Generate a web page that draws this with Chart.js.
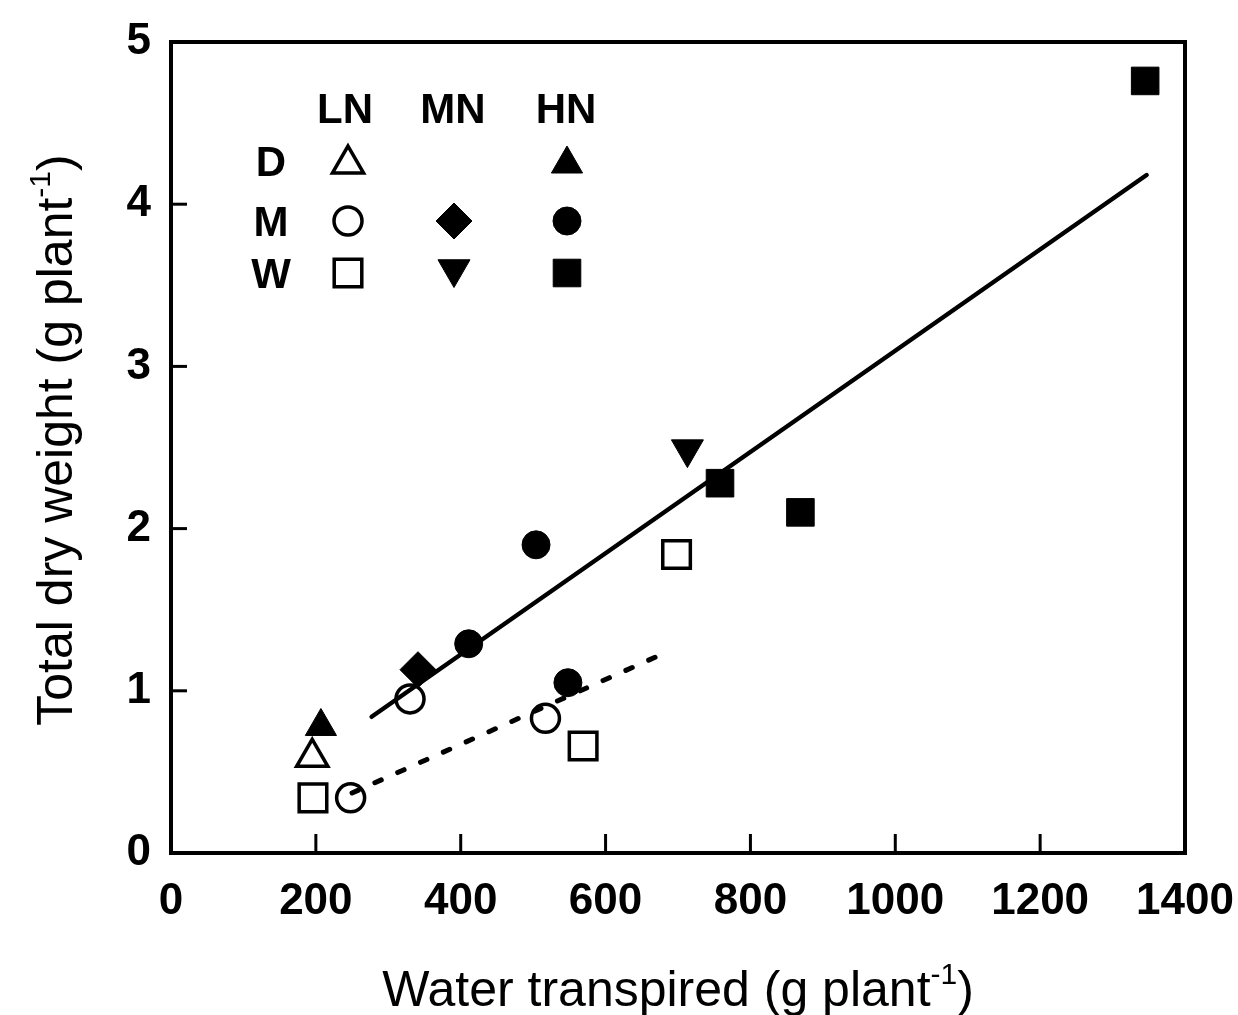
<!DOCTYPE html>
<html><head><meta charset="utf-8">
<script src="https://cdn.jsdelivr.net/npm/chart.js@4.4.0/dist/chart.umd.min.js"></script>
<style>html,body{margin:0;padding:0;background:#fff;}canvas{display:block;}</style>
</head><body>
<canvas id="c" width="1238" height="1015"></canvas>
<script>
// ---- data ----
const xTickValues = [0, 200, 400, 600, 800, 1000, 1200, 1400];
const yTickValues = [0, 1, 2, 3, 4, 5];
const dLN = [{x:195, y:0.59}];
const dHN = [{x:207, y:0.78}];
const mLN = [{x:248, y:0.34}, {x:330, y:0.95}, {x:517, y:0.83}];
const mMN = [{x:341, y:1.13}];
const mHN = [{x:411, y:1.29}, {x:504, y:1.90}, {x:548, y:1.05}];
const wLN = [{x:196, y:0.34}, {x:569, y:0.66}, {x:698, y:1.84}];
const wMN = [{x:713, y:2.49}];
const wHN = [{x:758, y:2.28}, {x:869, y:2.10}, {x:1345, y:4.76}];
const fitAll = [{x:277, y:0.84}, {x:1347, y:4.18}];
const fitLow = [{x:250, y:0.37}, {x:675, y:1.22}];
const legendCols = ['LN', 'MN', 'HN'];
const legendRows = ['D', 'M', 'W'];
const xTitle = 'Water transpired (g plant';
const yTitle = 'Total dry weight (g plant';
const titleSup = '-1';

// ---- styles ----
const FONT = '"Liberation Sans", Arial, Helvetica, sans-serif';
const INK = '#000';
const OPEN = 'rgba(0,0,0,0)';
const styles = {
  triUp:   {pointStyle:'triangle', radius:18, rotation:0},
  triDown: {pointStyle:'triangle', radius:18.5, rotation:180},
  circ:    {pointStyle:'circle', radius:14, rotation:0},
  sq:      {pointStyle:'rect', radius:19.5, rotation:0},
  dia:     {pointStyle:'rectRot', radius:18, rotation:0}
};
function ds(label, data, st, filled) {
  return {
    label, data, showLine:false,
    pointStyle: st.pointStyle, pointRadius: st.radius, pointRotation: st.rotation,
    pointHoverRadius: st.radius,
    pointBackgroundColor: filled ? INK : OPEN,
    pointBorderColor: INK,
    pointBorderWidth: filled ? 1 : 3.5
  };
}
const datasets = [
  ds('D LN', dLN, styles.triUp, false),
  ds('D HN', dHN, styles.triUp, true),
  ds('M LN', mLN, styles.circ, false),
  ds('M MN', mMN, styles.dia, true),
  ds('M HN', mHN, styles.circ, true),
  ds('W LN', wLN, styles.sq, false),
  ds('W MN', wMN, styles.triDown, true),
  ds('W HN', wHN, styles.sq, true),
  {label:'fit', data:fitAll, showLine:true, pointRadius:0, borderColor:INK, borderWidth:4.5, borderCapStyle:'round', fill:false},
  {label:'fit low', data:fitLow, showLine:true, pointRadius:0, borderColor:INK, borderWidth:5, borderDash:[7,18], borderCapStyle:'round', fill:false}
];

// ---- frame, inward ticks, titles, inset legend ----
const framePlugin = {
  id:'frame',
  afterDraw(chart) {
    const {ctx, chartArea:ca, scales:{x, y}} = chart;
    ctx.save();
    ctx.strokeStyle = INK;
    ctx.lineWidth = 4;
    ctx.strokeRect(ca.left, ca.top, ca.right - ca.left, ca.bottom - ca.top);
    ctx.lineWidth = 3;
    xTickValues.forEach(v => {
      if (v === x.min || v === x.max) return;
      const px = x.getPixelForValue(v);
      ctx.beginPath(); ctx.moveTo(px, ca.bottom); ctx.lineTo(px, ca.bottom - 19); ctx.stroke();
    });
    yTickValues.forEach(v => {
      if (v === y.min || v === y.max) return;
      const py = y.getPixelForValue(v);
      ctx.beginPath(); ctx.moveTo(ca.left, py); ctx.lineTo(ca.left + 16, py); ctx.stroke();
    });

    // axis titles with superscript
    function drawTitle(main, cx, baseY) {
      ctx.font = '50px ' + FONT;
      const w1 = ctx.measureText(main).width;
      ctx.font = '30px ' + FONT;
      const w2 = ctx.measureText(titleSup).width;
      ctx.font = '50px ' + FONT;
      const w3 = ctx.measureText(')').width;
      const total = w1 + w2 + w3;
      let sx = cx - total / 2;
      ctx.textAlign = 'left'; ctx.textBaseline = 'alphabetic';
      ctx.fillStyle = INK;
      ctx.fillText(main, sx, baseY);
      ctx.font = '30px ' + FONT;
      ctx.fillText(titleSup, sx + w1, baseY - 22);
      ctx.font = '50px ' + FONT;
      ctx.fillText(')', sx + w1 + w2, baseY);
    }
    drawTitle(xTitle, (ca.left + ca.right) / 2, 1006);
    ctx.save();
    ctx.translate(72, 440);
    ctx.rotate(-Math.PI / 2);
    drawTitle(yTitle, 0, 0);
    ctx.restore();

    // inset legend (table of markers)
    const colX = [ca.left + 177, ca.left + 283, ca.left + 396];
    const rowY = [ca.top + 119, ca.top + 179, ca.top + 231];
    ctx.fillStyle = INK;
    ctx.font = 'bold 42px ' + FONT;
    ctx.textAlign = 'center'; ctx.textBaseline = 'alphabetic';
    legendCols.forEach((t, i) => ctx.fillText(t, colX[i] - 3 + (i === 0 ? 0 : 2), ca.top + 66 + 15));
    legendRows.forEach((t, i) => ctx.fillText(t, ca.left + 100, rowY[i] + 15));
    const cell = [
      [chart.data.datasets[0], null, chart.data.datasets[1]],
      [chart.data.datasets[2], chart.data.datasets[3], chart.data.datasets[4]],
      [chart.data.datasets[5], chart.data.datasets[6], chart.data.datasets[7]]
    ];
    cell.forEach((row, r) => row.forEach((d, c) => {
      if (!d) return;
      ctx.save();
      ctx.fillStyle = d.pointBackgroundColor;
      ctx.strokeStyle = d.pointBorderColor;
      ctx.lineWidth = d.pointBorderWidth;
      let yy = rowY[r];
      if (d.pointStyle === 'triangle') yy += (d.pointRotation === 180 ? -4 : 3);
      Chart.helpers.drawPoint(ctx, {
        pointStyle: d.pointStyle, radius: d.pointRadius, rotation: d.pointRotation,
        borderWidth: d.pointBorderWidth
      }, colX[c], yy);
      ctx.restore();
    }));
    ctx.restore();
  }
};

new Chart(document.getElementById('c'), {
  type:'scatter',
  data:{datasets},
  options:{
    responsive:false,
    animation:false,
    events:[],
    layout:{padding:{left:0, top:42, right:53, bottom:0}},
    plugins:{legend:{display:false}, tooltip:{enabled:false}},
    scales:{
      x:{
        type:'linear', min:0, max:1400,
        afterBuildTicks: s => { s.ticks = xTickValues.map(v => ({value:v})); },
        afterFit: s => { s.height = 1015 - 853; s.paddingLeft = 0; s.paddingRight = 0; },
        grid:{display:false, drawTicks:false},
        border:{display:false},
        ticks:{color:INK, padding:22, maxRotation:0, autoSkip:false,
               callback: v => String(v),
               font:{family:FONT, size:44, weight:'bold'}}
      },
      y:{
        type:'linear', min:0, max:5,
        afterBuildTicks: s => { s.ticks = yTickValues.map(v => ({value:v})); },
        afterFit: s => { s.width = 171; s.paddingTop = 0; s.paddingBottom = 0; },
        grid:{display:false, drawTicks:false},
        border:{display:false},
        ticks:{color:INK, padding:20, callback: v => String(v),
               font:{family:FONT, size:44, weight:'bold'}}
      }
    }
  },
  plugins:[framePlugin]
});
</script>
</body></html>
